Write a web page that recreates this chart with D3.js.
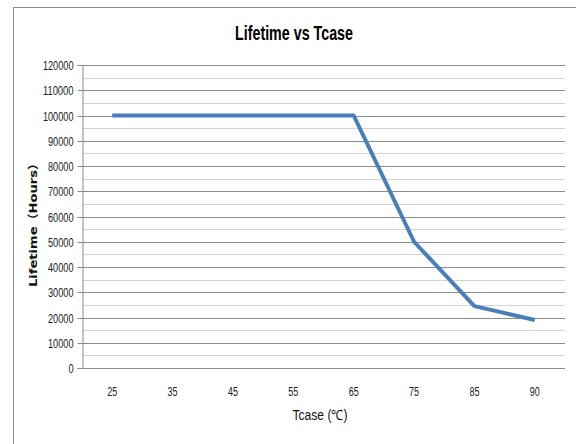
<!DOCTYPE html>
<html><head><meta charset="utf-8">
<script src="https://cdn.jsdelivr.net/npm/d3@7/dist/d3.min.js"></script>
<style>
html,body{margin:0;padding:0;background:#fff;}
svg{display:block;}
</style></head>
<body><svg id="c" width="576" height="444"></svg>
<script>
const categories = ["25","35","45","55","65","75","85","90"];
const lifetime = [100000,100000,100000,100000,100000,50000,24500,19000];
const yTicks = [0,10000,20000,30000,40000,50000,60000,70000,80000,90000,100000,110000,120000];
const minorTicks = [5000,15000,25000,35000,45000,55000,65000,75000,85000,95000,105000,115000];
const title = "Lifetime vs Tcase";
const xTitle = "Tcase (℃)";
const yTitle = "Lifetime（Hours）";

const svg = d3.select("#c");
const L = 82, R = 565, T = 65, B = 368;
const sans = "'Liberation Sans',Arial,sans-serif";

// chart border
svg.append("rect").attr("x",13.5).attr("y",7.5).attr("width",600).attr("height",500)
  .attr("fill","#fff").attr("stroke","#8c8c8c").attr("stroke-width",1);

const x = d3.scaleBand().domain(categories).range([L,R]);
const y = d3.scaleLinear().domain([0,120000]).range([B,T]);

// minor gridlines
svg.append("g").selectAll("line").data(minorTicks).join("line")
  .attr("x1",L).attr("x2",R).attr("y1",d=>Math.round(y(d))+0.5).attr("y2",d=>Math.round(y(d))+0.5)
  .attr("stroke","#d4d4d4").attr("stroke-width",1.2);
// major gridlines
svg.append("g").selectAll("line").data(yTicks.filter(d=>d>0)).join("line")
  .attr("x1",L).attr("x2",R).attr("y1",d=>Math.round(y(d))+0.5).attr("y2",d=>Math.round(y(d))+0.5)
  .attr("stroke","#8a8a8a").attr("stroke-width",1.2);

function narrowText(sel, perChar){
  sel.attr("font-family",sans).attr("font-size","12.5px").attr("fill","#1a1a1a")
    .attr("lengthAdjust","spacingAndGlyphs")
    .attr("textLength",function(){ return this.textContent.length*perChar; });
}

// y axis
const ya = svg.append("g").attr("transform",`translate(${L+0.5},0)`)
  .call(d3.axisLeft(y).tickValues(yTicks).tickSize(5).tickPadding(4).tickFormat(d3.format("d")));
ya.select(".domain").attr("stroke","#8a8a8a");
ya.selectAll(".tick line").attr("stroke","#8a8a8a");
ya.selectAll(".tick").attr("transform",d=>`translate(0,${Math.round(y(d))+0.5})`);
narrowText(ya.selectAll("text"), 5.1);

// x axis
const xa = svg.append("g").attr("transform",`translate(0,${B+0.5})`)
  .call(d3.axisBottom(x).tickSize(0).tickPadding(19));
xa.select(".domain").attr("stroke","#8a8a8a").attr("d",`M${L},0H${R}`);
narrowText(xa.selectAll("text"), 5.0);

// line
const line = d3.line().x((d,i)=>x(categories[i])+x.bandwidth()/2).y(d=>y(d));
svg.append("path").datum(lifetime).attr("d",line)
  .attr("fill","none").attr("stroke","#4a7ebb").attr("stroke-width",4)
  .attr("stroke-linejoin","round").attr("stroke-linecap","butt");

// titles
svg.append("text").attr("x",294).attr("y",40).attr("text-anchor","middle")
  .attr("font-family",sans).attr("font-weight","bold").attr("font-size","21px")
  .attr("textLength",118).attr("lengthAdjust","spacingAndGlyphs").attr("fill","#000").text(title);
svg.append("text").attr("x",320).attr("y",420).attr("text-anchor","middle")
  .attr("font-family",sans).attr("font-size","14px").attr("fill","#111")
  .attr("textLength",55).attr("lengthAdjust","spacingAndGlyphs").text(xTitle);
svg.append("text").attr("transform","translate(37,222) rotate(-90)").attr("text-anchor","middle")
  .attr("font-family","'DejaVu Sans','Noto Sans CJK SC',sans-serif").attr("font-weight","bold")
  .attr("font-size","11px").attr("textLength",130).attr("lengthAdjust","spacingAndGlyphs")
  .attr("fill","#111").text(yTitle);
</script></body></html>
